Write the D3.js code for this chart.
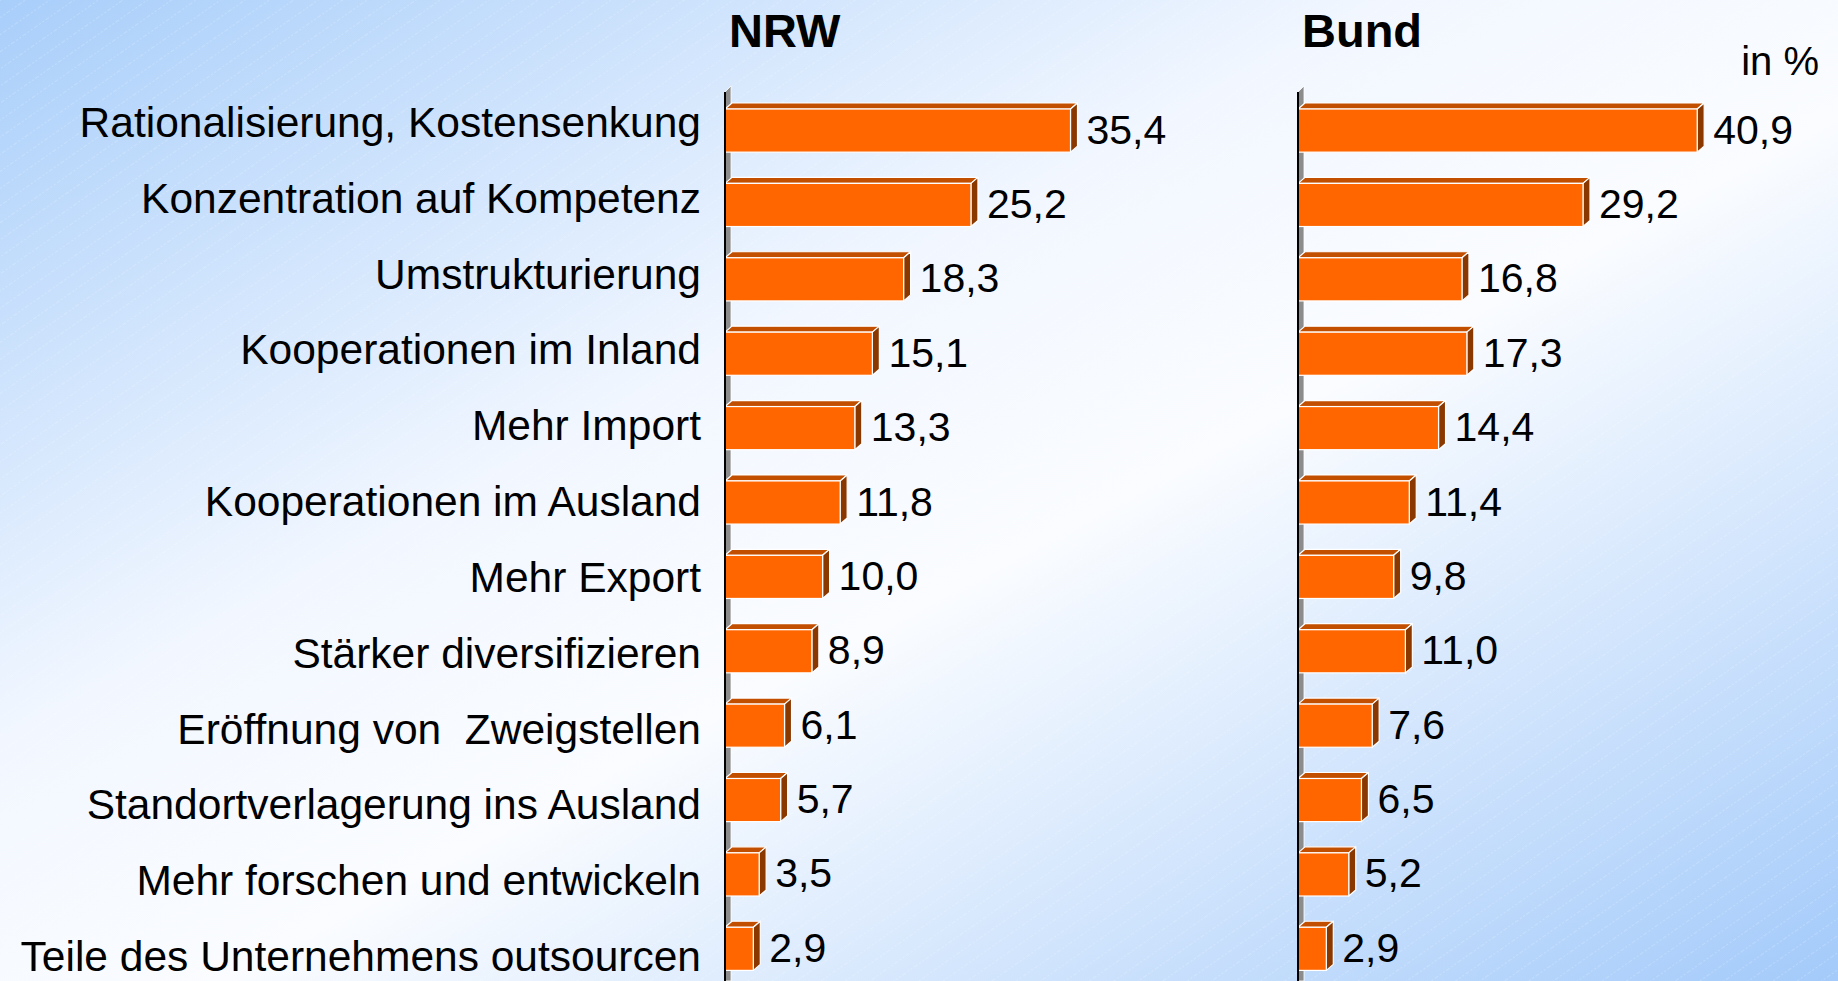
<!DOCTYPE html>
<html>
<head>
<meta charset="utf-8">
<script src="https://cdn.jsdelivr.net/npm/d3@7"></script>
<style>
  html, body { margin: 0; padding: 0; overflow: hidden; }
  svg { display: block; font-family: "Liberation Sans", Arial, sans-serif; }
</style>
</head>
<body>
<div id="chart"></div>
<script>
const categories = [
    "Rationalisierung, Kostensenkung",
    "Konzentration auf Kompetenz",
    "Umstrukturierung",
    "Kooperationen im Inland",
    "Mehr Import",
    "Kooperationen im Ausland",
    "Mehr Export",
    "Stärker diversifizieren",
    "Eröffnung von  Zweigstellen",
    "Standortverlagerung ins Ausland",
    "Mehr forschen und entwickeln",
    "Teile des Unternehmens outsourcen"
];
const nrwValues  = [35.4, 25.2, 18.3, 15.1, 13.3, 11.8, 10.0, 8.9, 6.1, 5.7, 3.5, 2.9];
const bundValues = [40.9, 29.2, 16.8, 17.3, 14.4, 11.4, 9.8, 11.0, 7.6, 6.5, 5.2, 2.9];
const panelTitles = ["NRW", "Bund"];
const unitLabel = "in %";

const width = 1838;
const height = 981;
const depthX = 7;
const depthY = 6;

const de = d3.formatLocale({decimal: ",", thousands: ".", grouping: [3], currency: ["", " €"]});
const fmt = de.format(".1f");

const svg = d3.select("#chart").append("svg")
    .attr("width", width)
    .attr("height", height);

// background: diagonal blue-white-blue gradient with faint hatch
const defs = svg.append("defs");
const grad = defs.append("linearGradient")
    .attr("id", "bg")
    .attr("x1", 0).attr("y1", 0).attr("x2", 1).attr("y2", 1);
grad.append("stop").attr("offset", 0).attr("stop-color", "#a8cefa");
grad.append("stop").attr("offset", 0.38).attr("stop-color", "#f2f7ff");
grad.append("stop").attr("offset", 0.56).attr("stop-color", "#fafcff");
grad.append("stop").attr("offset", 1).attr("stop-color", "#a3cafa");

const hatch = defs.append("pattern")
    .attr("id", "hatch")
    .attr("patternUnits", "userSpaceOnUse")
    .attr("width", 14).attr("height", 14)
    .attr("patternTransform", "rotate(-35)");
hatch.append("line")
    .attr("x1", 0).attr("y1", 0).attr("x2", 14).attr("y2", 0)
    .attr("stroke", "#ffffff")
    .attr("stroke-opacity", 0.4)
    .attr("stroke-width", 1)
    .attr("stroke-dasharray", "2,2");

svg.append("rect").attr("width", width).attr("height", height).attr("fill", "url(#bg)");
svg.append("rect").attr("width", width).attr("height", height).attr("fill", "url(#hatch)");

// rows
const y = d3.scaleBand()
    .domain(categories)
    .range([109, 970.4])
    .paddingInner(0.42)
    .paddingOuter(0);

const yLabel = d3.scalePoint()
    .domain(categories)
    .range([137, 971]);

svg.append("g")
    .selectAll("text")
    .data(categories)
    .join("text")
    .attr("x", 701)
    .attr("y", d => yLabel(d))
    .attr("text-anchor", "end")
    .attr("font-size", 42.5)
    .attr("fill", "#000")
    .style("white-space", "pre")
    .text(d => d);

function drawPanel(x0, values, title) {
    const x = d3.scaleLinear().domain([0, 45]).range([x0, x0 + 45 * 9.76]);
    const g = svg.append("g");
    const axisTop = 92;

    g.append("text")
        .attr("x", x0 + 4)
        .attr("y", 47)
        .attr("font-size", 47)
        .attr("font-weight", "bold")
        .text(title);

    // axis wall
    g.append("polygon")
        .attr("points", [[x0, axisTop], [x0 + depthX - 1, axisTop - depthY], [x0 + depthX - 1, height], [x0, height]].join(" "))
        .attr("fill", "#8c8c8c")
        .attr("stroke", "#ffffff")
        .attr("stroke-width", 0.8);

    const bars = g.selectAll("g.bar")
        .data(categories.map((c, i) => ({cat: c, v: values[i]})))
        .join("g")
        .attr("class", "bar");

    // top face
    bars.append("polygon")
        .attr("points", d => {
            const t = y(d.cat), xa = x(0), xb = x(d.v);
            return [[xa, t], [xb, t], [xb + depthX, t - depthY], [xa + depthX, t - depthY]].join(" ");
        })
        .attr("fill", "#c24e00")
        .attr("stroke", "#ffffff")
        .attr("stroke-width", 1.2)
        .attr("stroke-linejoin", "round");

    // side face
    bars.append("polygon")
        .attr("points", d => {
            const t = y(d.cat), b = t + y.bandwidth(), xb = x(d.v);
            return [[xb, t], [xb + depthX, t - depthY], [xb + depthX, b - depthY], [xb, b]].join(" ");
        })
        .attr("fill", "#8a3800")
        .attr("stroke", "#ffffff")
        .attr("stroke-width", 1.2)
        .attr("stroke-linejoin", "round");

    // front face
    bars.append("rect")
        .attr("x", x(0))
        .attr("y", d => y(d.cat))
        .attr("width", d => x(d.v) - x(0))
        .attr("height", y.bandwidth())
        .attr("fill", "#ff6600")
        .attr("stroke", "#ffffff")
        .attr("stroke-width", 1.2);

    bars.append("text")
        .attr("x", d => x(d.v) + depthX + 9)
        .attr("y", d => y(d.cat) + y.bandwidth() / 2 + 13)
        .attr("font-size", 41)
        .attr("fill", "#000")
        .text(d => fmt(d.v));

    // axis line
    g.append("line")
        .attr("x1", x0).attr("x2", x0)
        .attr("y1", axisTop).attr("y2", height)
        .attr("stroke", "#000")
        .attr("stroke-width", 2);
}

drawPanel(725, nrwValues, panelTitles[0]);
drawPanel(1298, bundValues, panelTitles[1]);

svg.append("text")
    .attr("x", 1819)
    .attr("y", 75)
    .attr("text-anchor", "end")
    .attr("font-size", 40)
    .text(unitLabel);
</script>
</body>
</html>
